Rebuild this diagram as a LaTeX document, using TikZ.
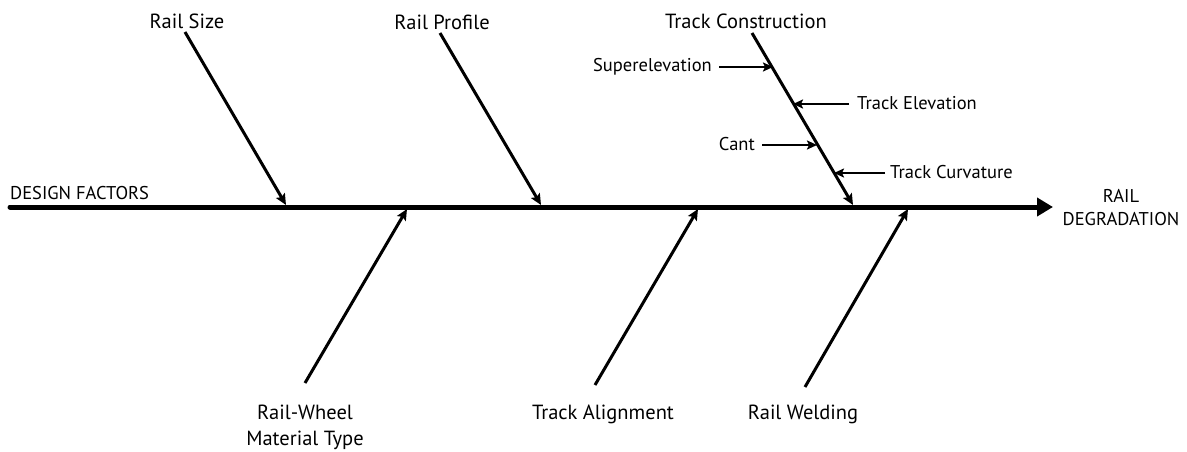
\documentclass[tikz,border=0pt]{standalone}
\usepackage{fontspec}
\setmainfont{PT Sans}
\usetikzlibrary{arrows.meta}
\tikzset{
	spine/.style={line width=5pt, line cap=round, -{Triangle[length=16pt,width=18pt]}},
	bone/.style={line width=3pt, -{Stealth[length=11pt,width=10pt,inset=2pt]}},
	twig/.style={line width=2.5pt, -{Stealth[length=10pt,width=9pt,inset=2pt]}},
	lbl/.style={font=\fontsize{20.5}{26}\selectfont, inner sep=0pt},
	sublbl/.style={font=\fontsize{18.5}{23}\selectfont, inner sep=0pt},
}
\begin{document}
\begin{tikzpicture}[x=1pt,y=-1pt]
	\useasboundingbox (0,0) rectangle (1187,452);
	%Main spine
	\coordinate (tail) at (10,207);
	\coordinate (head) at (1053,207);
	\draw[spine] (tail) -- (head);
	\node[sublbl, anchor=west] (design) at (10,193) {DESIGN FACTORS};
	\node[sublbl, align=center] (degradation) at (1121,208) {RAIL\\DEGRADATION};
	%Upper bones
	\node[lbl] (size) at (187,21) {Rail Size};
	\coordinate (size0) at (185,32);
	\coordinate (size1) at (286,205);
	\draw[bone] (size0) -- (size1);
	\node[lbl] (profile) at (442,22) {Rail Profile};
	\coordinate (profile0) at (440,33);
	\coordinate (profile1) at (541,205);
	\draw[bone] (profile0) -- (profile1);
	\node[lbl] (construction) at (746,21) {Track Construction};
	\coordinate (construction0) at (752,33);
	\coordinate (construction1) at (853,205);
	\draw[bone] (construction0) -- (construction1);
	%Small arrows on the construction bone
	\node[sublbl, anchor=east] (superelev) at (712,67) {Superelevation};
	\coordinate (superelev0) at (719,67);
	\coordinate (superelev1) at (773,67);
	\draw[twig] (superelev0) -- (superelev1);
	\node[sublbl, anchor=west] (elevation) at (857,103) {Track Elevation};
	\coordinate (elevation0) at (849,104);
	\coordinate (elevation1) at (793,104);
	\draw[twig] (elevation0) -- (elevation1);
	\node[sublbl, anchor=east] (cant) at (755,144) {Cant};
	\coordinate (cant0) at (762,145);
	\coordinate (cant1) at (817,145);
	\draw[twig] (cant0) -- (cant1);
	\node[sublbl, anchor=west] (curvature) at (890,172) {Track Curvature};
	\coordinate (curvature0) at (885,173);
	\coordinate (curvature1) at (834,173);
	\draw[twig] (curvature0) -- (curvature1);
	%Lower bones
	\node[lbl, align=center] (material) at (305,427) {Rail-Wheel\\Material Type};
	\coordinate (material0) at (305,383);
	\coordinate (material1) at (407,209);
	\draw[bone] (material0) -- (material1);
	\node[lbl] (alignment) at (603,414) {Track Alignment};
	\coordinate (alignment0) at (595,385);
	\coordinate (alignment1) at (698,209);
	\draw[bone] (alignment0) -- (alignment1);
	\node[lbl] (welding) at (803,414) {Rail Welding};
	\coordinate (welding0) at (805,387);
	\coordinate (welding1) at (908,209);
	\draw[bone] (welding0) -- (welding1);
\end{tikzpicture}
\end{document}
